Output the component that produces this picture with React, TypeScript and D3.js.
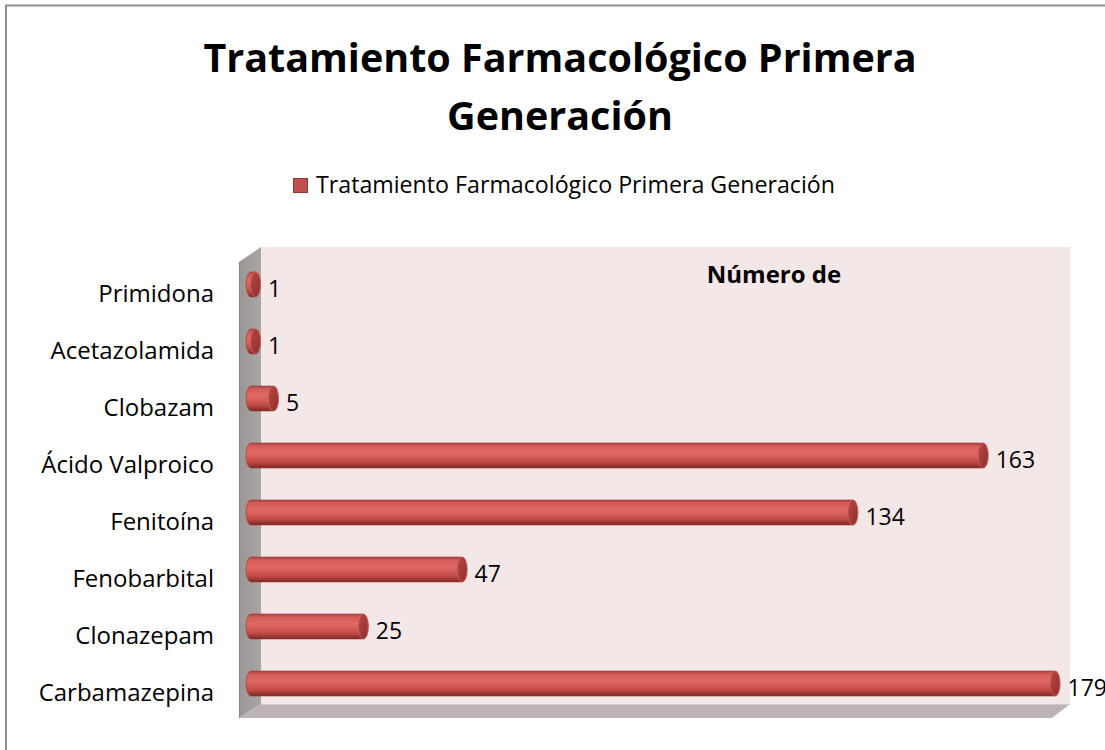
import React from "react";
import * as d3 from "d3";

const categories = [
  "Primidona",
  "Acetazolamida",
  "Clobazam",
  "Ácido Valproico",
  "Fenitoína",
  "Fenobarbital",
  "Clonazepam",
  "Carbamazepina",
];
const values = [1, 1, 5, 163, 134, 47, 25, 179];
const seriesName = "Tratamiento Farmacológico Primera Generación";
const titleLines = ["Tratamiento Farmacológico Primera", "Generación"];
const axisTitle = "Número de";

const W = 1105;
const H = 750;
const FONT = "'Open Sans', Lato, sans-serif";

export default function App() {
  const x = d3.scaleLinear().domain([0, 179]).range([251, 1055]);
  const y = d3.scalePoint<string>().domain(categories).range([284.5, 683.5]);
  const barH = 25;
  const rx = 5;
  const ry = barH / 2;

  // 3D box
  const backL = 261, backR = 1070, backT = 247, backB = 704;
  const frontL = 239, frontT = 262, frontB = 718, floorFR = 1052;

  const x0 = x(0);

  return (
    <svg
      width={W}
      height={H}
      style={{ position: "absolute", left: 0, top: 0, background: "#fff" }}
    >
      <defs>
        <linearGradient id="body" x1="0" y1="0" x2="0" y2="1">
          <stop offset="0" stopColor="#a84240" />
          <stop offset="0.12" stopColor="#d25c58" />
          <stop offset="0.38" stopColor="#e06964" />
          <stop offset="0.55" stopColor="#d75f5b" />
          <stop offset="0.78" stopColor="#bd4844" />
          <stop offset="0.92" stopColor="#94332f" />
          <stop offset="1" stopColor="#7a2825" />
        </linearGradient>
        <linearGradient id="cap" x1="0" y1="0" x2="1" y2="1">
          <stop offset="0" stopColor="#b84643" />
          <stop offset="0.5" stopColor="#a43b38" />
          <stop offset="1" stopColor="#8a2f2c" />
        </linearGradient>
        <linearGradient id="wallL" x1="0" y1="0" x2="1" y2="0">
          <stop offset="0" stopColor="#9a9696" />
          <stop offset="1" stopColor="#aaa6a6" />
        </linearGradient>
      </defs>

      {/* outer border */}
      <path
        d={`M6,${H + 5} L6,5.5 L${W + 5},5.5`}
        fill="none"
        stroke="#8f8f8f"
        strokeWidth={2}
      />

      {/* title */}
      {titleLines.map((t, i) => (
        <text
          key={t}
          x={560}
          y={72 + i * 58}
          textAnchor="middle"
          fontFamily={FONT}
          fontWeight="bold"
          fontSize={39.5}
          fill="#000"
        >
          {t}
        </text>
      ))}

      {/* legend */}
      <rect
        x={293.5}
        y={178.5}
        width={14}
        height={14}
        fill="#c0504d"
        stroke="#8c3a37"
        strokeWidth={1}
      />
      <text x={316} y={193} fontFamily={FONT} fontSize={23.2} fill="#000">
        {seriesName}
      </text>

      {/* back wall */}
      <rect
        x={backL}
        y={backT}
        width={backR - backL}
        height={backB - backT}
        fill="#f4e7e7"
      />
      {/* left wall */}
      <polygon
        points={`${frontL},${frontT} ${backL},${backT} ${backL},${backB} ${frontL},${frontB}`}
        fill="url(#wallL)"
      />
      <line x1={frontL + 0.5} y1={frontT} x2={frontL + 0.5} y2={frontB} stroke="#8a8686" strokeWidth={1} />
      {/* floor */}
      <polygon
        points={`${frontL},${frontB} ${backL},${backB} ${backR},${backB} ${floorFR},${frontB}`}
        fill="#bcb4b4"
      />
      <line x1={backL} y1={backB + 0.5} x2={backR} y2={backB + 0.5} stroke="#d4cccc" strokeWidth={1} />

      {/* axis title (clipped in original) */}
      <text
        x={774}
        y={283}
        textAnchor="middle"
        fontFamily={FONT}
        fontWeight="bold"
        fontSize={24}
        fill="#000"
      >
        {axisTitle}
      </text>

      {/* bars */}
      {categories.map((c, i) => {
        const cy = y(c)!;
        const xe = x(values[i]);
        const top = cy - ry;
        const bot = cy + ry;
        const d = `M${x0},${top} L${xe},${top} A${rx},${ry} 0 0 1 ${xe},${bot} L${x0},${bot} A${rx},${ry} 0 0 1 ${x0},${top} Z`;
        return (
          <g key={c}>
            <path d={d} fill="url(#body)" stroke="#9b3936" strokeWidth={0.6} />
            <ellipse
              cx={xe}
              cy={cy}
              rx={rx}
              ry={ry}
              fill="url(#cap)"
              stroke="#cf6460"
              strokeWidth={0.8}
            />
            <text
              x={xe + rx + 7.5}
              y={cy + 12}
              fontFamily={FONT}
              fontSize={23}
              fill="#000"
            >
              {values[i]}
            </text>
            <text
              x={214}
              y={cy + 17}
              textAnchor="end"
              fontFamily={FONT}
              fontSize={24}
              fill="#000"
            >
              {c}
            </text>
          </g>
        );
      })}
    </svg>
  );
}
